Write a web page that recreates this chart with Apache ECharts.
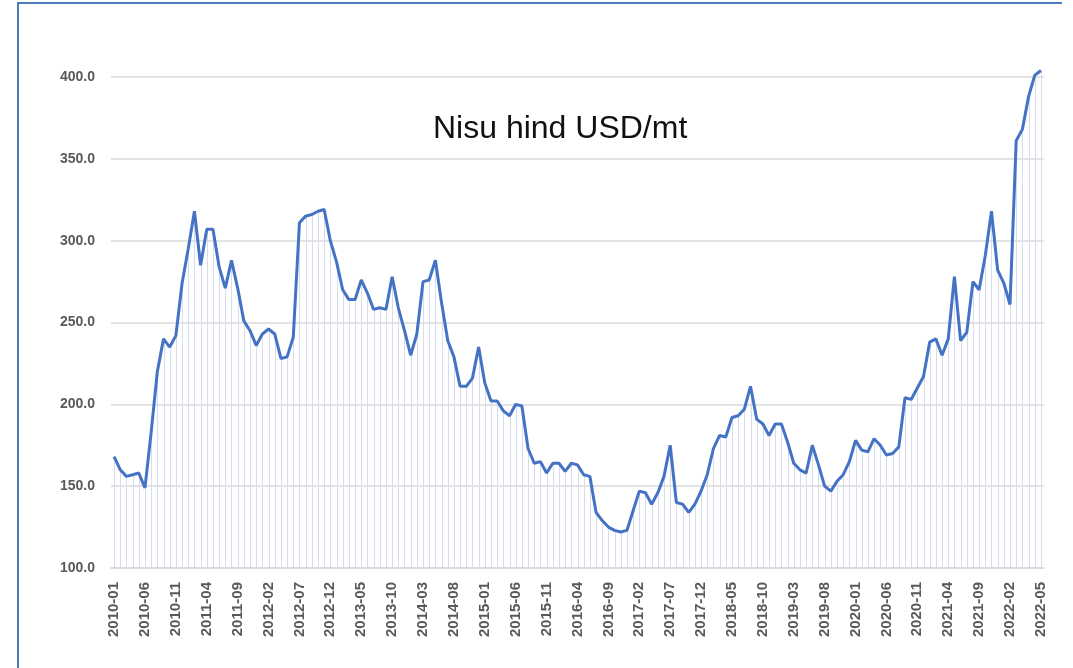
<!DOCTYPE html>
<html>
<head>
<meta charset="utf-8">
<title>Nisu hind USD/mt</title>
<script src="https://cdn.jsdelivr.net/npm/echarts@6/dist/echarts.min.js"></script>
<style>
  html, body { margin: 0; padding: 0; background: #fff; }
  #chart { width: 1073px; height: 668px; }
</style>
</head>
<body>
<div id="chart"></div>
<script>
// x-axis labels, one every 5 points
const tickLabels = [
  '2010-01','2010-06','2010-11','2011-04','2011-09','2012-02','2012-07','2012-12',
  '2013-05','2013-10','2014-03','2014-08','2015-01','2015-06','2015-11','2016-04',
  '2016-09','2017-02','2017-07','2017-12','2018-05','2018-10','2019-03','2019-08',
  '2020-01','2020-06','2020-11','2021-04','2021-09','2022-02','2022-05'
];

// wheat price, USD/mt
const prices = [
  168, 160, 156, 157, 158, 149, 183, 220, 240, 235,
  242, 274, 295, 318, 285, 307, 307, 284, 271, 288,
  271, 251, 245, 236, 243, 246, 243, 228, 229, 241,
  311, 315, 316, 318, 319, 300, 287, 270, 264, 264,
  276, 268, 258, 259, 258, 278, 259, 245, 230, 243,
  275, 276, 288, 262, 239, 229, 211, 211, 216, 235,
  213, 202, 202, 196, 193, 200, 199, 173, 164, 165,
  158, 164, 164, 159, 164, 163, 157, 156, 134, 129,
  125, 123, 122, 123, 135, 147, 146, 139, 146, 156,
  175, 140, 139, 134, 139, 147, 157, 173, 181, 180,
  192, 193, 197, 211, 191, 188, 181, 188, 188, 177,
  164, 160, 158, 175, 163, 150, 147, 153, 157, 165,
  178, 172, 171, 179, 175, 169, 170, 174, 204, 203,
  210, 217, 238, 240, 230, 240, 278, 239, 244, 275,
  270, 291, 318, 282, 274, 261, 361, 368, 388, 401,
  404
];

const categories = prices.map((v, i) => (i % 5 === 0 ? tickLabels[i / 5] : ''));

const chart = echarts.init(document.getElementById('chart'));

chart.setOption({
  animation: false,
  backgroundColor: '#ffffff',
  title: {
    text: 'Nisu hind USD/mt',
    left: 428,
    top: 108,
    textStyle: {
      fontFamily: 'Liberation Sans, Arial, sans-serif',
      fontSize: 32,
      fontWeight: 'normal',
      color: '#111111'
    }
  },
  graphic: [{
    type: 'polyline',
    shape: { points: [[18, 700], [18, 3], [1062, 3]] },
    style: { stroke: '#4a7ebb', lineWidth: 2, fill: null },
    silent: true
  }],
  grid: { left: 111, right: 29, top: 77, bottom: 100 },
  xAxis: {
    type: 'category',
    data: categories,
    boundaryGap: true,
    axisLine: { lineStyle: { color: '#d9d9d9', width: 1.5 } },
    axisTick: { show: false },
    axisLabel: {
      interval: 0,
      rotate: 90,
      margin: 14,
      fontFamily: 'Liberation Sans, Arial, sans-serif',
      fontSize: 15,
      fontWeight: 'bold',
      color: '#595959'
    }
  },
  yAxis: {
    type: 'value',
    min: 100,
    max: 400,
    interval: 50,
    axisLine: { show: false },
    axisTick: { show: false },
    splitLine: { lineStyle: { color: '#dadada', width: 1.5 } },
    axisLabel: {
      margin: 16,
      formatter: v => v.toFixed(1),
      fontFamily: 'Liberation Sans, Arial, sans-serif',
      fontSize: 14,
      fontWeight: 'bold',
      color: '#595959'
    }
  },
  series: [
    {
      // thin drop lines from each point down to the axis
      type: 'custom',
      data: prices,
      silent: true,
      clip: false,
      z: 1,
      renderItem: (params, api) => {
        const top = api.coord([api.value(0), api.value(1)]);
        const bottom = api.coord([api.value(0), 100]);
        const x = Math.round(top[0]) + 0.5;
        return {
          type: 'line',
          shape: { x1: x, y1: top[1], x2: x, y2: bottom[1] },
          style: { stroke: '#d5ddef', lineWidth: 1 }
        };
      },
      encode: { x: 0, y: 1 }
    },
    {
      type: 'line',
      data: prices,
      symbol: 'none',
      clip: false,
      lineStyle: { color: '#4472c4', width: 3 },
      z: 3
    }
  ]
});
</script>
</body>
</html>
